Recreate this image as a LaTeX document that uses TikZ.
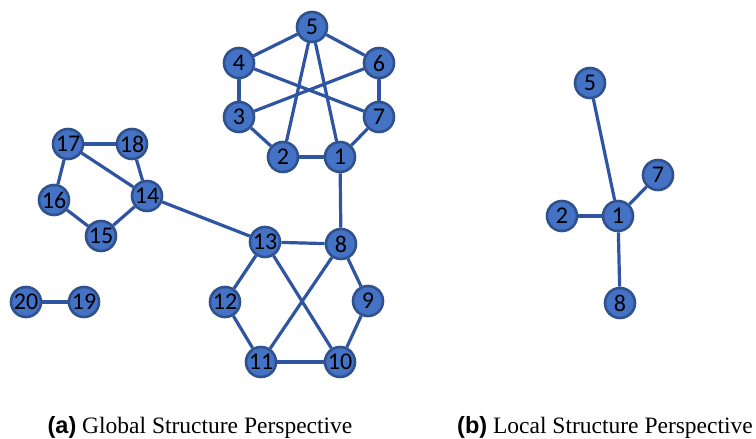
\documentclass[tikz,border=0pt]{standalone}
\usepackage{fontspec}
\setmainfont{Liberation Serif}
\newfontfamily\numfont{Carlito}
\newfontfamily\capsans{Liberation Sans}
\usepackage{xcolor}
\usepackage{tikz}
\usetikzlibrary{positioning}
\definecolor{vfill}{HTML}{4472C4}
\definecolor{vline}{HTML}{2F528F}
\definecolor{eline}{HTML}{2F55A2}
\tikzset{
  vert/.style={circle, draw=vline, fill=vfill, line width=2.6pt, minimum size=30pt, inner sep=0pt, font=\fontsize{24}{24}\numfont},
  link/.style={eline, line width=3.2pt},
  subcap/.style={font=\fontsize{23.5}{26}\selectfont, anchor=base},
}

\begin{document}
\begin{tikzpicture}[x=1pt,y=-1pt]
        \useasboundingbox (0,0) rectangle (756,439);
        % global structure
        \node[vert] (g5)  at (312,27)  {5};
        \node[vert] (g4)  at (239,63)  {4};
        \node[vert] (g6)  at (379,63)  {6};
        \node[vert] (g3)  at (239,117) {3};
        \node[vert] (g7)  at (379,117) {7};
        \node[vert] (g2)  at (283,157) {2};
        \node[vert] (g1)  at (340,157) {1};
        \node[vert] (g17) at (68,144)  {17};
        \node[vert] (g18) at (132,144) {18};
        \node[vert] (g16) at (54,200)  {16};
        \node[vert] (g14) at (147,196) {14};
        \node[vert] (g15) at (101,236) {15};
        \node[vert] (g13) at (265,242) {13};
        \node[vert] (g8)  at (341,244) {8};
        \node[vert] (g12) at (225,302) {12};
        \node[vert] (g9)  at (368,301) {9};
        \node[vert] (g11) at (261,362) {11};
        \node[vert] (g10) at (340,362) {10};
        \node[vert] (g20) at (26,302)  {20};
        \node[vert] (g19) at (84,302)  {19};
        \draw[link] (g5) -- (g4);
        \draw[link] (g5) -- (g6);
        \draw[link] (g4) -- (g3);
        \draw[link] (g6) -- (g7);
        \draw[link] (g3) -- (g2);
        \draw[link] (g2) -- (g1);
        \draw[link] (g1) -- (g7);
        \draw[link] (g5) -- (g2);
        \draw[link] (g5) -- (g1);
        \draw[link] (g4) -- (g7);
        \draw[link] (g3) -- (g6);
        \draw[link] (g1) -- (g8);
        \draw[link] (g17) -- (g18);
        \draw[link] (g17) -- (g16);
        \draw[link] (g17) -- (g14);
        \draw[link] (g18) -- (g14);
        \draw[link] (g16) -- (g15);
        \draw[link] (g15) -- (g14);
        \draw[link] (g14) -- (g13);
        \draw[link] (g13) -- (g8);
        \draw[link] (g13) -- (g12);
        \draw[link] (g12) -- (g11);
        \draw[link] (g11) -- (g10);
        \draw[link] (g10) -- (g9);
        \draw[link] (g9) -- (g8);
        \draw[link] (g13) -- (g10);
        \draw[link] (g8) -- (g11);
        \draw[link] (g20) -- (g19);
        % local structure
        \node[vert] (l5) at (590,83)  {5};
        \node[vert] (l7) at (658,175) {7};
        \node[vert] (l2) at (562,216) {2};
        \node[vert] (l1) at (618,216) {1};
        \node[vert] (l8) at (620,303) {8};
        \draw[link] (l5) -- (l1);
        \draw[link] (l7) -- (l1);
        \draw[link] (l2) -- (l1);
        \draw[link] (l8) -- (l1);
        % captions
        \node[subcap] (capa) at (200,433) {{\capsans\bfseries (a)} Global Structure Perspective};
        \node[subcap] (capb) at (605,433) {{\capsans\bfseries (b)} Local Structure Perspective};
      \end{tikzpicture}
\end{document}
